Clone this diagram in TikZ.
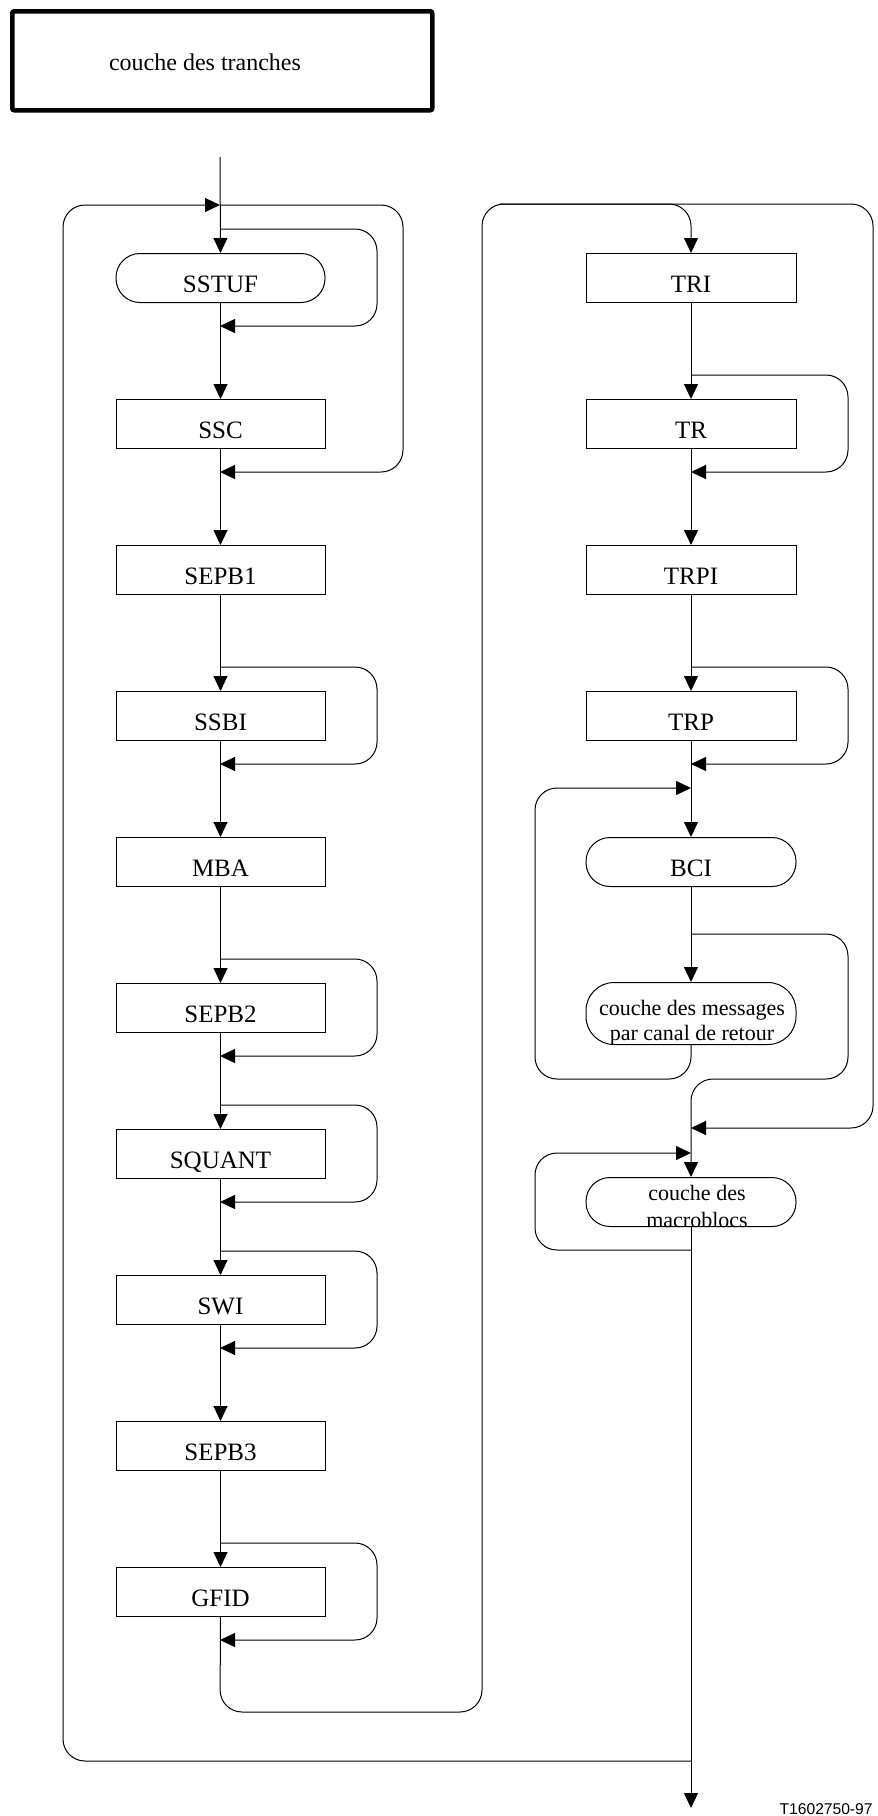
\documentclass[tikz,border=0pt]{standalone}
\usepackage{fontspec}
\setmainfont{Liberation Serif}
\newfontfamily\arialfont{Liberation Sans}
\usetikzlibrary{arrows.meta}
\begin{document}
\begin{tikzpicture}[x=1pt,y=-1pt,
  line width=1pt,
  proc/.style={draw,rectangle,anchor=north,minimum width=209pt,minimum height=49pt,
    inner sep=0pt,font=\fontsize{25}{30}\selectfont,text height=28pt,text depth=0pt},
  term/.style={proc,rounded corners=24pt},
  arr/.style={-{Triangle[length=15pt,width=14pt]}},
  loopln/.style={arr,rounded corners=22pt},
  small/.style={font=\fontsize{22}{25}\selectfont,inner sep=0pt,anchor=base}
]
\useasboundingbox (0,0) rectangle (878,1816);

% title box
\node[draw,line width=4.5pt,rounded corners=2pt,minimum width=420pt,minimum height=99pt,inner sep=0pt,anchor=north west] (title) at (10,9) {};
\node[font=\fontsize{24}{28}\selectfont,inner sep=0pt,anchor=base] (titletxt) at (205,70) {couche des tranches};

% left column
\node[term] (sstuf) at (220.5,253) {SSTUF};
\node[proc] (ssc) at (220.5,399) {SSC};
\node[proc] (sepb1) at (220.5,545) {SEPB1};
\node[proc] (ssbi) at (220.5,691) {SSBI};
\node[proc] (mba) at (220.5,837) {MBA};
\node[proc] (sepb2) at (220.5,983) {SEPB2};
\node[proc] (squant) at (220.5,1129) {SQUANT};
\node[proc] (swi) at (220.5,1275) {SWI};
\node[proc] (sepb3) at (220.5,1421) {SEPB3};
\node[proc] (gfid) at (220.5,1567) {GFID};

% right column
\node[proc,minimum width=210pt] (tri) at (691,253) {TRI};
\node[proc,minimum width=210pt] (tr) at (691,399) {TR};
\node[proc,minimum width=210pt] (trpi) at (691,545) {TRPI};
\node[proc,minimum width=210pt] (trp) at (691,691) {TRP};
\node[term,minimum width=210pt] (bci) at (691,837) {BCI};
\node[term,minimum width=210pt,minimum height=62pt,rounded corners=28pt] (msg) at (691,982) {};
\node[small] (msgA) at (692,1015) {couche des messages};
\node[small] (msgB) at (692,1040) {par canal de retour};
\node[term,minimum width=210pt] (mb) at (691,1177) {};
\node[small] (mbA) at (697,1200) {couche des};
\node[small] (mbB) at (697,1227) {macroblocs};

% coordinates
\coordinate (start) at (220,157);
\coordinate (jtop) at (220,205);
\coordinate (end) at (691,1808);
\coordinate (rtop) at (500,204);

% entry and left column flow
\draw[arr] (start) -- (sstuf.north);
\draw[arr] (sstuf.south) -- (ssc.north);
\draw[arr] (ssc.south) -- (sepb1.north);
\draw[arr] (sepb1.south) -- (ssbi.north);
\draw[arr] (ssbi.south) -- (mba.north);
\draw[arr] (mba.south) -- (sepb2.north);
\draw[arr] (sepb2.south) -- (squant.north);
\draw[arr] (squant.south) -- (swi.north);
\draw[arr] (swi.south) -- (sepb3.north);
\draw[arr] (sepb3.south) -- (gfid.north);

% left self loops
\foreach \n/\t in {sstuf/253,ssbi/691,sepb2/983,squant/1129,swi/1275,gfid/1567}{
  \draw[loopln] (220,\t-24) -- (377,\t-24) -- (377,\t+73) -- (220,\t+73);
}
% skip of SSTUF and SSC
\draw[loopln] (jtop) -- (403,205) -- (403,472) -- (220,472);

% GFID to TRI
\draw[loopln] (gfid.south) -- (220,1712) -- (482,1712) -- (482,204) -- (691,204) -- (tri.north);

% right column flow
\draw[arr] (tri.south) -- (tr.north);
\draw[arr] (tr.south) -- (trpi.north);
\draw[arr] (trpi.south) -- (trp.north);
\draw[arr] (trp.south) -- (bci.north);
\draw[arr] (bci.south) -- (msg.north);

% right self loops
\foreach \n/\t in {tr/399,trp/691}{
  \draw[loopln] (691,\t-24) -- (848,\t-24) -- (848,\t+73) -- (691,\t+73);
}

% loop back before BCI
\draw[loopln] (msg.south) -- (691,1079) -- (535,1079) -- (535,788) -- (691,788);
% skip of messages
\draw[loopln] (691,934) -- (848,934) -- (848,1079) -- (691,1079) -- (mb.north);
% skip of TRI..messages
\draw[loopln] (rtop) -- (873,204) -- (873,1128) -- (691,1128);
% loop back before macroblocs
\draw[loopln] (691,1250) -- (535,1250) -- (535,1153) -- (691,1153);

% exit and big slice loop
\draw[arr] (mb.south) -- (end);
\draw[loopln] (691,1761) -- (63,1761) -- (63,205) -- (jtop);

\node[font=\arialfont\fontsize{15.6}{18}\selectfont,inner sep=0pt,anchor=base east] (ref) at (873,1814) {T1602750-97};
\end{tikzpicture}
\end{document}
